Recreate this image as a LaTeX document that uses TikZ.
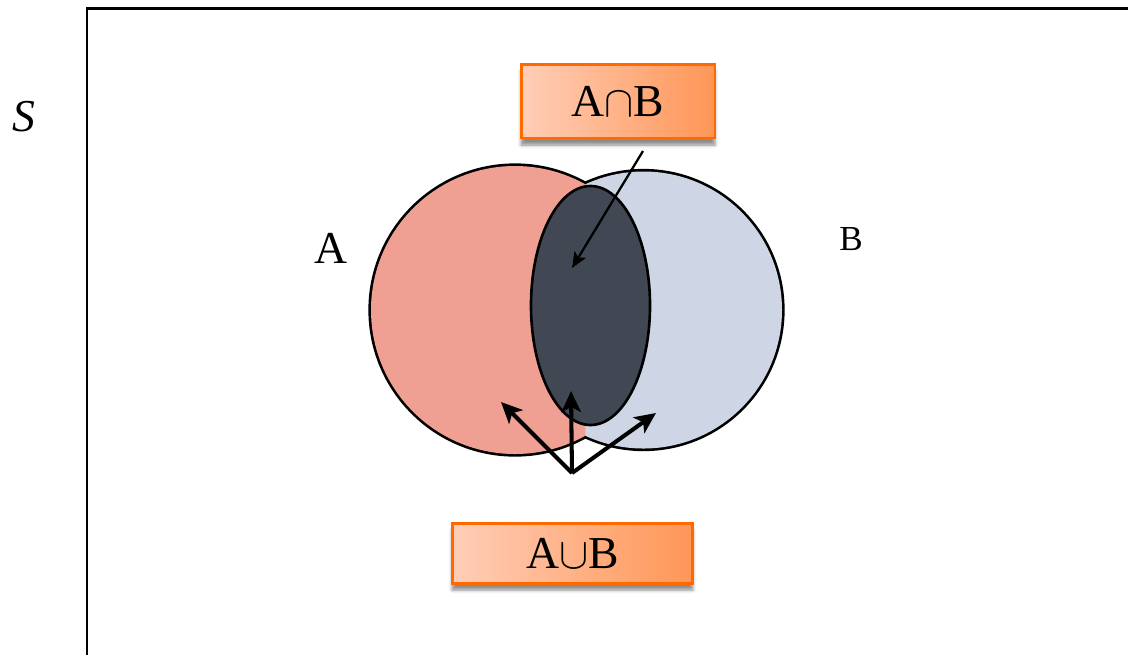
\documentclass[tikz,border=0pt]{standalone}
\usepackage{fontspec}
\setmainfont{Liberation Serif}
\usepackage{tikz}
\usetikzlibrary{arrows,arrows.meta,calc,shadows.blur}

\definecolor{setA}{RGB}{240,160,146}
\definecolor{setB}{RGB}{206,213,228}
\definecolor{setAB}{RGB}{66,72,83}
\definecolor{boxline}{RGB}{255,106,0}
\definecolor{boxlight}{RGB}{255,206,184}
\definecolor{boxdark}{RGB}{255,150,86}

\begin{document}
\begin{tikzpicture}[x=0.02cm,y=-0.02cm,>=stealth',
  label box/.style={draw=boxline,line width=1.7pt,left color=boxlight,right color=boxdark,
    blur shadow={shadow xshift=0pt,shadow yshift=-4pt,shadow opacity=45},
    font=\fontsize{26}{30}\selectfont,inner sep=0pt},
  set label/.style={font=\fontsize{26}{30}\selectfont}]

\clip (0,0) rectangle (1128,654);
\draw[line width=1.7pt] (87,8) rectangle (1180,700);

\coordinate (cA) at (515,310);
\coordinate (cB) at (643.5,310);
\coordinate (cAB) at (590.5,305.5);

% union outline first, fills cover the inner half
\draw[line width=3pt] (cA) circle (144) (cB) circle (138.5);
\fill[setA] (cA) circle (144);
\begin{scope}
  \clip (585.3,0) rectangle (900,654);
  \fill[setB] (cB) circle (138.5);
\end{scope}
\draw[fill=setAB,line width=1.5pt] (cAB) ellipse (59.5 and 119.5);

\node[set label](S) at (24,117) {\itshape S};
\node[set label](A) at (331,248) {A};
\node[set label,font=\fontsize{20}{24}\selectfont](B) at (851,239) {B};

\node[label box,minimum width=3.88cm,minimum height=1.48cm](capbox) at (618,101) {A$\cap$B};
\node[label box,minimum width=4.82cm,minimum height=1.2cm](cupbox) at (572.5,553) {A$\cup$B};

\coordinate (captail) at (643,151);
\coordinate (caphead) at (572,268);
\coordinate (cupfoot) at (572,473);
\coordinate (cupA) at (501,402);
\coordinate (cupAB) at (571,391);
\coordinate (cupB) at (656,413);

\path[-{Stealth[length=9pt,width=7.5pt,inset=2pt]},line width=1.3pt]
(captail) edge (caphead);
\path[-{Stealth[length=12pt,width=11pt,inset=3pt]},line width=2.3pt,line join=miter]
(cupfoot) edge (cupA)
(cupfoot) edge (cupAB)
(cupfoot) edge (cupB);

\end{tikzpicture}
\end{document}
